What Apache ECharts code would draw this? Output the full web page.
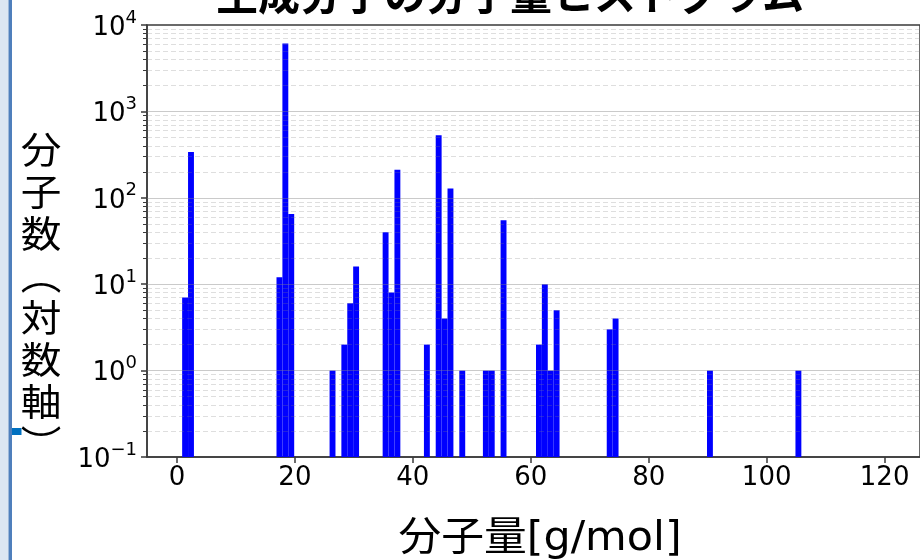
<!DOCTYPE html>
<html>
<head>
<meta charset="utf-8">
<script src="https://cdn.jsdelivr.net/npm/echarts@6/dist/echarts.min.js"></script>
<style>
html,body{margin:0;padding:0;background:#fff;}
#chart{width:920px;height:560px;}
</style>
</head>
<body>
<div id="chart"></div>
<script>
// ---- data ----
const binWidth = 1.0;                       // histogram bin width [g/mol]
const binLeft = [0.88, 1.88, 16.88, 17.88, 18.88, 25.88, 27.88, 28.88, 29.88,
                 34.88, 35.88, 36.88, 41.88, 43.88, 44.88, 45.88, 47.88, 51.88,
                 52.88, 54.88, 60.88, 61.88, 62.88, 63.88, 72.88, 73.88, 89.88, 104.88];
const counts  = [7, 340, 12, 6100, 65, 1, 2, 6, 16,
                 40, 8, 211, 2, 530, 4, 128, 1, 1,
                 1, 55, 2, 10, 1, 5, 3, 4, 1, 1];
const xTicks = [0, 20, 40, 60, 80, 100, 120];
const yTicks = [0.1, 1, 10, 100, 1000, 10000];
const yMinorTicks = [0.2,0.3,0.4,0.5,0.6,0.7,0.8,0.9,
                     2,3,4,5,6,7,8,9,
                     20,30,40,50,60,70,80,90,
                     200,300,400,500,600,700,800,900,
                     2000,3000,4000,5000,6000,7000,8000,9000];
const titleText = '生成分子の分子量ヒストグラム';
const xName = '分子量[g/mol]';
const yName = '分子数（対数軸）';

// ---- chart ----
function powLabel(v){
  const e = Math.round(Math.log10(v));
  return '{b|10}{s|' + (e < 0 ? '\u2212' + (-e) : e) + '}';
}
const yNameVertical = yName.replace('（','︵').replace('）','︶').split('').join('\n');

const chart = echarts.init(document.getElementById('chart'), null, {renderer:'canvas'});
const axisColor = '#3a3a3a';
const tickFont = {fontFamily:'DejaVu Sans', fontSize:26, color:'#000'};

const gridLines = yTicks.slice(1, -1).map(v => ({yAxis:v, lineStyle:{type:'solid', color:'rgba(128,128,128,0.42)', width:1}}))
  .concat(yMinorTicks.map(v => ({yAxis:v, lineStyle:{type:[5,3], color:'rgba(128,128,128,0.26)', width:1}})));

chart.setOption({
  animation:false,
  backgroundColor:'#ffffff',
  title:{
    text:titleText, left:505, top:-32, textAlign:'center',
    textStyle:{fontFamily:'Noto Sans CJK JP', fontWeight:'bold', fontSize:42, color:'#000'}
  },
  grid:{left:147, top:25, right:-2, bottom:103, show:true, borderColor:axisColor, borderWidth:1.5, backgroundColor:'transparent'},
  xAxis:{
    type:'value', min:-5.08, max:126,
    axisLine:{show:true, onZero:false, lineStyle:{color:axisColor, width:1.5}},
    axisTick:{show:true, length:6, customValues:xTicks, lineStyle:{color:axisColor, width:1.5}},
    axisLabel:Object.assign({customValues:xTicks, margin:8}, tickFont),
    splitLine:{show:false}
  },
  yAxis:[{
    type:'log', logBase:10, min:0.1, max:10000,
    axisLine:{show:true, onZero:false, lineStyle:{color:axisColor, width:1.5}},
    axisTick:{show:true, length:6, customValues:yTicks, lineStyle:{color:axisColor, width:1.5}},
    axisLabel:{customValues:yTicks, margin:10, formatter:powLabel,
      rich:{
        b:{fontFamily:'DejaVu Sans', fontSize:26, lineHeight:32, verticalAlign:'bottom', color:'#000'},
        s:{fontFamily:'DejaVu Sans', fontSize:18, lineHeight:18, verticalAlign:'top', color:'#000'}
      }},
    splitLine:{show:false}
  },{
    type:'log', logBase:10, min:0.1, max:10000, position:'left',
    axisLine:{show:false, onZero:false},
    axisTick:{show:true, length:4, customValues:yMinorTicks, lineStyle:{color:axisColor, width:1}},
    axisLabel:{show:false},
    splitLine:{show:false}
  }],
  series:[{
    type:'custom',
    name:'分子数',
    xAxisIndex:0, yAxisIndex:0,
    data:binLeft.map((b,i) => [b, counts[i]]),
    encode:{x:0, y:1},
    renderItem:function(params, api){
      const x0 = api.value(0), c = api.value(1);
      const pTop = api.coord([x0, c]);
      const pBot = api.coord([x0 + binWidth, 0.1]);
      return {type:'rect',
        shape:{x:pTop[0], y:pTop[1], width:pBot[0]-pTop[0], height:pBot[1]-pTop[1]},
        style:{fill:'#0000ff'}};
    },
    z:2
  },{
    type:'line', data:[], xAxisIndex:0, yAxisIndex:0, silent:true, z:5,
    markLine:{silent:true, symbol:'none', label:{show:false}, animation:false, data:gridLines}
  }],
  graphic:[
    {type:'rect', shape:{x:0, y:0, width:8.5, height:560}, style:{fill:'#dce6f2'}, z:100},
    {type:'rect', shape:{x:8.5, y:0, width:3.5, height:560}, style:{fill:'#4f7fbc'}, z:100},
    {type:'rect', shape:{x:12, y:428, width:9.5, height:7}, style:{fill:'#0070c0'}, z:100},
    {type:'text', x:41, y:129, scaleX:1.1,
     style:{text:yNameVertical, fontFamily:'Noto Sans CJK JP', fontSize:37, lineHeight:42, align:'center', verticalAlign:'top', fill:'#000'}, z:100},
    {type:'text', x:540, y:520, scaleX:1.07,
     style:{text:xName, fontFamily:"'DejaVu Sans','Noto Sans CJK JP'", fontSize:40, align:'center', verticalAlign:'top', fill:'#000'}, z:100}
  ]
});
</script>
</body>
</html>
